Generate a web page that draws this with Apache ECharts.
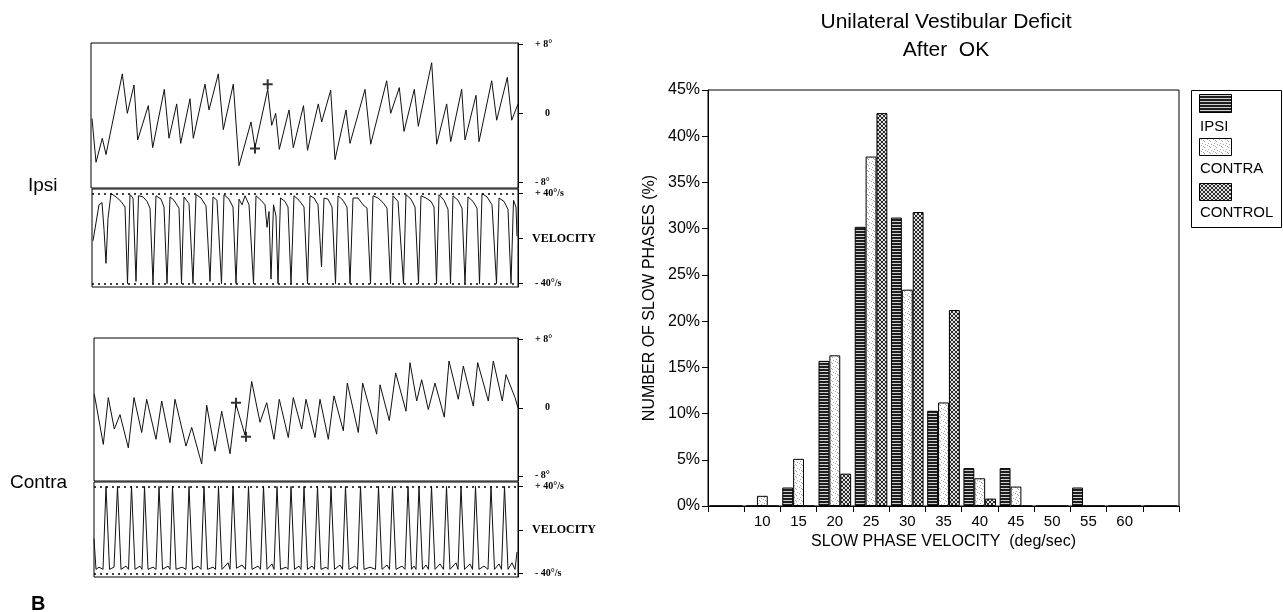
<!DOCTYPE html>
<html>
<head>
<meta charset="utf-8">
<script src="https://cdn.jsdelivr.net/npm/echarts@6.0.0/dist/echarts.min.js"></script>
<style>
  html, body { margin: 0; padding: 0; background: #fff; }
  #main { width: 1283px; height: 612px; }
</style>
</head>
<body>
<div id="main"></div>
<script>
// ---- histogram data ----
var velocityBins = ['', '10', '15', '20', '25', '30', '35', '40', '45', '50', '55', '60', ''];
var ipsiPct      = [0, 0, 2.0, 15.7, 30.2, 31.2, 10.3, 4.1, 4.1, 0, 2.0, 0, 0];
var contraPct    = [0, 1.1, 5.1, 16.3, 37.8, 23.4, 11.2, 3.0, 2.1, 0, 0, 0, 0];
var controlPct   = [0, 0, 0, 3.5, 42.5, 31.8, 21.2, 0.8, 0, 0, 0, 0, 0];
var seriesNames  = ['IPSI', 'CONTRA', 'CONTROL'];

// ---- eye position traces [time, deg] ----
var ipsiPosition = [
    [2, -0.6], [6, -5.7], [12.3, -2.9], [16, -4.8], [32.3, 4.6], [37.3, 0], [44, 3.3], [47.7, -3.1],
    [58.3, 0.9], [62.7, -4.0], [74.3, 2.8], [79, -2.9], [86.7, 1.1], [90.7, -3.5], [100, 1.7],
    [103.3, -2.9], [115, 3.4], [119, 0.4], [128.3, 4.6], [133.3, -1.9], [143.3, 3.4], [149, -6.1],
    [161, -1.0], [165, -4.0], [177.7, 2.8], [181.7, -1.4], [185.7, 0], [189.3, -4.2], [199, 0.4],
    [203.3, -4.0], [213.5, 0.9], [217.5, -4.3], [228.3, 1.1], [231.7, -1.0], [240.7, 2.7], [245, -5.4],
    [256, 0.4], [260, -3.5], [275, 2.8], [280.7, -3.6], [296.7, 3.8], [300.7, 0], [309.3, 3.0],
    [314, -2.1], [324.3, 2.8], [328.3, -1.5], [341.7, 5.9], [346.7, -3.6], [356.7, 1.1], [360.7, -3.3],
    [371.7, 2.8], [375, -3.1], [386, 2.1], [389, -3.3], [401.7, 3.8], [406.7, -0.8], [417.3, 4.2],
    [421.7, -0.8], [428, 1.1]
];
var ipsiMarks = [[165, -4.1], [177.7, 3.4]];

var contraPosition = [
    [4.3, 1.6], [13.3, -4.3], [18.3, 1.2], [24.3, -2.5], [30, -0.8], [38.3, -4.7], [44, 1.2],
    [51.7, -2.9], [56.7, 1.0], [66, -3.7], [71.7, 0.8], [80, -4.1], [85, 1.0], [96, -4.5],
    [101.7, -2.3], [111.7, -6.6], [116.7, 0.3], [125, -5.1], [131.7, -0.4], [140, -5.4], [146, 0.4],
    [155, -3.2], [161.7, 3.1], [170, -1.7], [176.7, 0.6], [184, -3.7], [189.3, 1.0], [198.3, -3.5],
    [203.3, 1.2], [211.7, -2.5], [216, 1.0], [225, -3.5], [230, 1.0], [238.3, -3.7], [244, 1.4],
    [253.3, -2.7], [257.3, 2.9], [268.3, -2.9], [272.7, 2.9], [286.7, -3.1], [290, 2.7], [299.3, -1.5],
    [305.7, 4.1], [316, -0.4], [320, 5.3], [326.7, 0.8], [331.7, 3.3], [338.3, -0.2], [345, 2.9],
    [354.3, -1.1], [359, 5.5], [368.3, 1.0], [373.3, 4.9], [383.3, 0.2], [387.7, 5.3], [398.3, 0.8],
    [403.3, 5.5], [412.3, 0.8], [416, 3.9], [425, 1.2], [428, 0]
];
var contraMarks = [[146, 0.6], [156, -3.4]];

// ---- eye velocity traces [time, deg/s] ----
var ipsiVelocity = [
    [3, -2], [6, 14], [9, 30], [12, 32], [14, 8], [16, -22], [18, 18], [21, 40], [26, 37], [31, 33],
    [35, 28], [37.5, -40], [40, 39], [43, 36], [46, -38], [48.5, 38], [53, 37], [57, 33], [60, 27],
    [63, -40], [66, 38], [71, 35], [74, 28], [77, -40], [80, 37], [84, 34], [89, 27], [91.5, -40],
    [94, 37], [99, 31], [103, -40], [106, 39], [111, 36], [116, 29], [120, -38], [123, 37], [127, 34],
    [131.5, -40], [134, 39], [139, 35], [143, 28], [146, -40], [149, 35], [152, 30], [155, 38],
    [159, 30], [163.5, -40], [166, 38], [171, 34], [175, 30], [177, 10], [179, 24], [181, -36],
    [183.5, 30], [186, 20], [188, -40], [190.5, 36], [195, 33], [198, 28], [201, -40], [204, 38],
    [209, 34], [214, 28], [217.5, -40], [220, 38], [224, 36], [228, 30], [231.5, -25], [234, 36],
    [238, 35], [242, 28], [245.5, -40], [248, 38], [253, 34], [257, 28], [260, -40], [263, 36],
    [268, 36], [273, 30], [277, 27], [280.5, -40], [283, 38], [288, 36], [293, 32], [297, 27],
    [300.5, -40], [303, 38], [308, 33], [313.5, -40], [316, 39], [321, 35], [325, 28], [328.5, -40],
    [331, 38], [336, 36], [341, 33], [344, 28], [346.5, -40], [349, 39], [354, 34], [358, 26],
    [360.5, -40], [363, 38], [368, 34], [372, 27], [375, -40], [378, 37], [383, 33], [387, 27],
    [389.5, -40], [392, 40], [397, 37], [402, 30], [406.5, -40], [409, 36], [414, 33], [418, 26],
    [421, -40], [423.5, 34], [426, 28], [427, 2]
];

var contraVelocity = [
    [4, -8], [6, -36], [9, -34], [13, -36], [16, 40], [19.5, -36], [24, -34], [27.5, 40], [31, -36],
    [36, -33], [38.5, -36], [41.5, 40], [45, -36], [50, -33], [52, -36], [54.5, 40], [58, -36],
    [63, -34], [66, -36], [69, 40], [72.5, -36], [78, -33], [80, -36], [82.5, 40], [86, -36],
    [92, -34], [96, -36], [99, 40], [102.5, -36], [108, -33], [111, -36], [114, 40], [117.5, -36],
    [123, -34], [125.5, -36], [128.5, 40], [132, -36], [138, -30], [140, -36], [143, 40], [146.5, -35],
    [152, -32], [155.5, -36], [158.5, 40], [162, -36], [168, -33], [170.5, -36], [173.5, 40],
    [177, -36], [182, -31], [184, -36], [187, 40], [190.5, -36], [196, -34], [198, -36], [201, 40],
    [204.5, -36], [209, -33], [211, -36], [214, 40], [217.5, -36], [222, -33], [224.5, -36],
    [227.5, 40], [231, -36], [236, -34], [238, -36], [241, 40], [244.5, -36], [250, -32], [252.5, -36],
    [255.5, 40], [259, -36], [265, -33], [267.5, -36], [270.5, 40], [274, -36], [280, -34],
    [285.5, -36], [288.5, 40], [292, -36], [297, -32], [299.5, -36], [302.5, 40], [306, -36],
    [312, -33], [315, -36], [318, 40], [321.5, -36], [324, -33], [326, -36], [329, 40], [332.5, -36],
    [336, -32], [338.5, -36], [341.5, 40], [345, -36], [350, -31], [353.5, -36], [356.5, 40],
    [360, -36], [366, -30], [368, -36], [371, 40], [374.5, -36], [380, -31], [382.5, -36], [385.5, 40],
    [389, -36], [394, -33], [398, -36], [401, 40], [404.5, -36], [409, -31], [411.5, -36], [414.5, 40],
    [418, -36], [422, -30], [425, -36], [427, -20]
];

var posTicks = [-8, 0, 8];
var velTicks = [-40, 0, 40];

// fill patterns for the bars
function makePattern(kind) {
    var c = document.createElement('canvas');
    var ctx = c.getContext('2d');
    var i;
    if (kind === 'ipsi') {
        c.width = 4; c.height = 3;
        ctx.fillStyle = '#1e1e1e'; ctx.fillRect(0, 0, 4, 3);
        ctx.fillStyle = '#d0d0d0'; ctx.fillRect(0, 2, 4, 1);
    } else if (kind === 'contra') {
        c.width = 6; c.height = 6;
        ctx.fillStyle = '#ffffff'; ctx.fillRect(0, 0, 6, 6);
        ctx.fillStyle = '#a8a8a8';
        ctx.fillRect(1, 1, 1, 1); ctx.fillRect(4, 3, 1, 1); ctx.fillRect(2, 5, 1, 1);
        ctx.fillRect(5, 0, 1, 1); ctx.fillRect(3, 2, 1, 1);
    } else {
        c.width = 4; c.height = 4;
        ctx.fillStyle = '#e2e2e2'; ctx.fillRect(0, 0, 4, 4);
        ctx.fillStyle = '#2a2a2a';
        for (i = 0; i < 4; i++) { ctx.fillRect(i, i, 1, 1); ctx.fillRect(3 - i, i, 1, 1); }
    }
    return {image: c, repeat: 'repeat'};
}
var fills = [makePattern('ipsi'), makePattern('contra'), makePattern('control')];

var sans  = '"Liberation Sans", Arial, sans-serif';
var serif = '"Liberation Serif", "Times New Roman", serif';

function posLabel(v) {
    if (v === 8) return '+ 8°';
    if (v === -8) return '- 8°';
    return '{z|0}';
}
function velLabel(v) {
    if (v === 40) return '+ 40°/s';
    if (v === -40) return '- 40°/s';
    return '{v|VELOCITY}';
}

function traceYAxis(grid, min, max, ticks, fmt) {
    return {
        type: 'value', gridIndex: grid, position: 'right', min: min, max: max,
        axisLine: {show: true, lineStyle: {color: '#000', width: 1}},
        axisTick: {show: true, length: 5, customValues: ticks, lineStyle: {color: '#000'}},
        axisLabel: {
            customValues: ticks, margin: 17, formatter: fmt,
            fontFamily: serif, fontSize: 10, fontWeight: 'bold', color: '#000',
            rich: {
                z: {fontFamily: serif, fontSize: 10, fontWeight: 'bold', padding: [0, 0, 0, 10]},
                v: {fontFamily: serif, fontSize: 12, padding: [0, 0, 0, -3]}
            }
        },
        splitLine: {show: false}
    };
}

function traceXAxis(grid, min) {
    return {type: 'value', gridIndex: grid, min: min, max: 428, show: false};
}

var dotted = {
    silent: true, symbol: 'none',
    label: {show: false},
    lineStyle: {type: [2, 4], color: '#000', width: 1.5},
    data: [{yAxis: 40}, {yAxis: -40}]
};

var plus = 'path://M4,0 H6 V4 H10 V6 H6 V10 H4 V6 H0 V4 H4 Z';

function line(name, xi, data, extra) {
    var s = {
        name: name, type: 'line', xAxisIndex: xi, yAxisIndex: xi, data: data,
        showSymbol: false, symbol: 'none', silent: true,
        lineStyle: {color: '#111', width: 1},
        emphasis: {disabled: true}
    };
    if (extra) s.markLine = extra;
    return s;
}

function marks(xi, data) {
    return {
        type: 'scatter', xAxisIndex: xi, yAxisIndex: xi, data: data, silent: true,
        symbol: plus, symbolSize: 10, itemStyle: {color: '#000'}
    };
}

function bar(i, data) {
    return {
        name: seriesNames[i], type: 'bar', xAxisIndex: 4, yAxisIndex: 4, data: data,
        barGap: '0%', barCategoryGap: '10%', silent: true,
        itemStyle: {color: fills[i], borderColor: '#000', borderWidth: 1},
        emphasis: {disabled: true}
    };
}

var chart = echarts.init(document.getElementById('main'), null, {renderer: 'canvas'});

var option = {
    animation: false,
    backgroundColor: '#fff',
    grid: [
        {left: 91, top: 43, width: 427, height: 145, show: true, borderColor: '#000', borderWidth: 1, outerBoundsMode: 'none'},
        {left: 92, top: 189, width: 426, height: 98, show: true, borderColor: '#000', borderWidth: 1, outerBoundsMode: 'none'},
        {left: 94, top: 338, width: 424, height: 143, show: true, borderColor: '#000', borderWidth: 1, outerBoundsMode: 'none'},
        {left: 94, top: 482, width: 424, height: 95, show: true, borderColor: '#000', borderWidth: 1, outerBoundsMode: 'none'},
        {left: 708, top: 90, right: 104, bottom: 106, show: true, borderColor: '#000', borderWidth: 1, outerBoundsMode: 'none'}
    ],
    xAxis: [
        traceXAxis(0, 1), traceXAxis(1, 2), traceXAxis(2, 4), traceXAxis(3, 4),
        {
            type: 'category', gridIndex: 4, data: velocityBins,
            name: 'SLOW PHASE VELOCITY  (deg/sec)', nameLocation: 'middle', nameGap: 26,
            nameTextStyle: {fontFamily: sans, fontSize: 16, color: '#000'},
            axisLine: {lineStyle: {color: '#000', width: 1}},
            axisTick: {show: true, interval: 0, length: 6, lineStyle: {color: '#000'}},
            axisLabel: {interval: 0, margin: 8, fontFamily: sans, fontSize: 15, color: '#000'},
            splitLine: {show: false}
        }
    ],
    yAxis: [
        traceYAxis(0, -8.7, 8.2, posTicks, posLabel),
        traceYAxis(1, -43, 44, velTicks, velLabel),
        traceYAxis(2, -8.6, 8.2, posTicks, posLabel),
        traceYAxis(3, -43, 44, velTicks, velLabel),
        {
            type: 'value', gridIndex: 4, min: 0, max: 45, interval: 5,
            name: 'NUMBER OF SLOW PHASES (%)', nameLocation: 'middle', nameGap: 50, nameRotate: 90,
            nameTextStyle: {fontFamily: sans, fontSize: 16, color: '#000'},
            axisLine: {show: true, lineStyle: {color: '#000', width: 1}},
            axisTick: {show: true, length: 6, lineStyle: {color: '#000'}},
            axisLabel: {formatter: '{value}%', margin: 8, fontFamily: sans, fontSize: 16, color: '#000'},
            splitLine: {show: false}
        }
    ],
    series: [
        line('Ipsi position', 0, ipsiPosition),
        marks(0, ipsiMarks),
        line('Ipsi velocity', 1, ipsiVelocity, dotted),
        line('Contra position', 2, contraPosition),
        marks(2, contraMarks),
        line('Contra velocity', 3, contraVelocity, dotted),
        bar(0, ipsiPct),
        bar(1, contraPct),
        bar(2, controlPct)
    ],
    graphic: [
        {type: 'text', x: 946, y: 22, style: {text: 'Unilateral Vestibular Deficit', font: '21px ' + sans, fill: '#000', align: 'center', verticalAlign: 'middle'}},
        {type: 'text', x: 946, y: 50, style: {text: 'After  OK', font: '21px ' + sans, fill: '#000', align: 'center', verticalAlign: 'middle'}},
        {type: 'text', x: 28, y: 186, style: {text: 'Ipsi', font: '19px ' + sans, fill: '#000', verticalAlign: 'middle'}},
        {type: 'text', x: 10, y: 483, style: {text: 'Contra', font: '19px ' + sans, fill: '#000', verticalAlign: 'middle'}},
        {type: 'text', x: 31, y: 604, style: {text: 'B', font: 'bold 20px ' + sans, fill: '#000', verticalAlign: 'middle'}},
        // legend box
        {type: 'rect', shape: {x: 1191.5, y: 90.5, width: 90, height: 137}, style: {fill: '#fff', stroke: '#000', lineWidth: 1}},
        {type: 'rect', shape: {x: 1199.5, y: 94.5, width: 32, height: 18}, style: {fill: fills[0], stroke: '#000', lineWidth: 1}},
        {type: 'text', x: 1200, y: 127, style: {text: seriesNames[0], font: '15px ' + sans, fill: '#000', verticalAlign: 'middle'}},
        {type: 'rect', shape: {x: 1199.5, y: 138.5, width: 32, height: 17}, style: {fill: fills[1], stroke: '#000', lineWidth: 1}},
        {type: 'text', x: 1200, y: 169, style: {text: seriesNames[1], font: '15px ' + sans, fill: '#000', verticalAlign: 'middle'}},
        {type: 'rect', shape: {x: 1199.5, y: 183.5, width: 32, height: 17}, style: {fill: fills[2], stroke: '#000', lineWidth: 1}},
        {type: 'text', x: 1200, y: 213, style: {text: seriesNames[2], font: '15px ' + sans, fill: '#000', verticalAlign: 'middle'}}
    ]
};

chart.setOption(option);
</script>
</body>
</html>
